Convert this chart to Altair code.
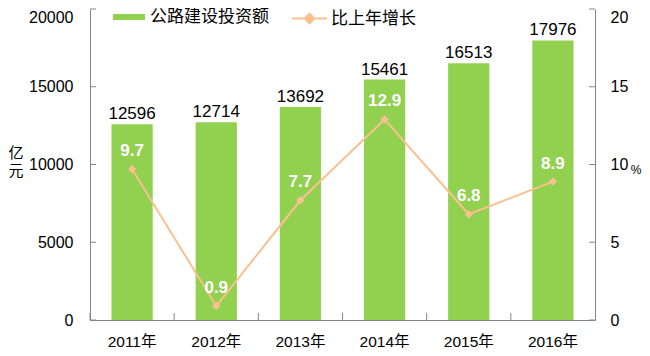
import altair as alt
import pandas as pd

years = ["2011年", "2012年", "2013年", "2014年", "2015年", "2016年"]
invest = [12596, 12714, 13692, 15461, 16513, 17976]
growth = [9.7, 0.9, 7.7, 12.9, 6.8, 8.9]
left_ticks = [0, 5000, 10000, 15000, 20000]
right_ticks = [0, 5, 10, 15, 20]
bar_name = "公路建设投资额"
line_name = "比上年增长"
left_title = "亿\n元"
right_title = "%"

df = pd.DataFrame({"year": years, "invest": invest, "growth": growth,
                   "s1": bar_name, "s2": line_name})
lt = pd.DataFrame({"v": left_ticks})
rt = pd.DataFrame({"v": right_ticks})
xt = pd.DataFrame({"year": years})

FONT = "Liberation Sans, Noto Sans CJK SC"
GREEN = "#92D050"
PEACH = "#FAC090"
AXIS = "#868686"
W, H = 505, 311

xenc = alt.X("year:N", sort=years, title=None,
             scale=alt.Scale(paddingInner=0, paddingOuter=0),
             axis=alt.Axis(ticks=False, labelAngle=0, labelPadding=14, labelFontSize=15.5,
                           labelFont=FONT, labelColor="black", domainColor=AXIS))


def yl(field):
    return alt.Y(field, scale=alt.Scale(domain=[0, 20000]),
                 axis=alt.Axis(values=left_ticks, ticks=False, grid=False, labelPadding=17,
                               labelFontSize=16, labelFont=FONT, labelColor="black",
                               labelOffset={"condition": {"test": "datum.value == 20000",
                                                          "value": 8}, "value": 0},
                               format="d", domainColor=AXIS, title=None))


def yr(field):
    return alt.Y(field, scale=alt.Scale(domain=[0, 20]),
                 axis=alt.Axis(orient="right", values=right_ticks, ticks=False, grid=False,
                               labelPadding=15, labelFontSize=16, labelFont=FONT,
                               labelOffset={"condition": {"test": "datum.value == 20",
                                                          "value": 8}, "value": 0},
                               labelColor="black", domainColor=AXIS, title=None))


bars = alt.Chart(df).mark_bar(width={"band": 0.49}).encode(
    x=xenc, y=yl("invest:Q"),
    color=alt.Color("s1:N", scale=alt.Scale(domain=[bar_name], range=[GREEN]),
                    legend=alt.Legend(title=None, orient="none", legendX=23, legendY=-8,
                                      symbolType="M-1,-0.19H1V0.19H-1Z", symbolSize=1024,
                                      symbolStrokeWidth=0, labelOffset=5, padding=0,
                                      labelFontSize=17, labelFont=FONT, labelColor="black")))
bar_text = alt.Chart(df).mark_text(dy=-5, baseline="alphabetic", fontSize=17, font=FONT,
                                   color="black").encode(
    x=xenc, y=yl("invest:Q"), text=alt.Text("invest:Q", format="d"))
left_rules = alt.Chart(lt).mark_rule(color=AXIS, strokeWidth=1).encode(
    y=yl("v:Q"), x=alt.value(0), x2=alt.value(6))
x_rules = alt.Chart(xt).mark_rule(color=AXIS, strokeWidth=1).encode(
    x=alt.X("year:N", sort=years, bandPosition=0), y=alt.value(H - 7), y2=alt.value(H))
ltitle = alt.Chart(pd.DataFrame({"t": [left_title]})).mark_text(
    lineBreak="\n", baseline="top", align="center", fontSize=15, lineHeight=18,
    font=FONT, color="black").encode(text="t:N", x=alt.value(-74), y=alt.value(137))

left = alt.layer(bars, bar_text, left_rules, x_rules, ltitle)

line = alt.Chart(df).mark_line(strokeWidth=2).encode(
    x=xenc, y=yr("growth:Q"),
    stroke=alt.Stroke("s2:N", scale=alt.Scale(domain=[line_name], range=[PEACH]),
                      legend=alt.Legend(title=None, orient="none", legendX=201, legendY=-9,
                                        symbolType="M-1,0H1M0,-0.28L0.28,0L0,0.28L-0.28,0Z",
                                        symbolSize=1225, symbolStrokeWidth=2,
                                        symbolFillColor=PEACH, labelOffset=3, padding=0,
                                        labelFontSize=17, labelFont=FONT,
                                        labelColor="black")))
points = alt.Chart(df).mark_point(shape="diamond", filled=True, size=70, opacity=1,
                                  color=PEACH).encode(x=xenc, y=yr("growth:Q"))
line_text = alt.Chart(df).mark_text(dy=-13, baseline="alphabetic", fontSize=17, font=FONT,
                                    fontWeight="bold", color="white").encode(
    x=xenc, y=yr("growth:Q"), text=alt.Text("growth:Q", format=".1f"))
right_rules = alt.Chart(rt).mark_rule(color=AXIS, strokeWidth=1).encode(
    y=yr("v:Q"), x=alt.value(W - 6), x2=alt.value(W))
rtitle = alt.Chart(pd.DataFrame({"t": [right_title]})).mark_text(
    baseline="middle", align="center", fontSize=12, font=FONT, color="black").encode(
    text="t:N", x=alt.value(W + 41), y=alt.value(161))

right = alt.layer(line, points, line_text, right_rules, rtitle)

chart = alt.layer(left, right).resolve_scale(y="independent").properties(
    width=W, height=H,
    autosize=alt.AutoSizeParams(type="none"),
    padding={"left": 82, "top": 1, "right": 47, "bottom": 28},
).configure_view(stroke=None)

chart.save("out.html", embed_options={"renderer": "svg", "actions": False})
